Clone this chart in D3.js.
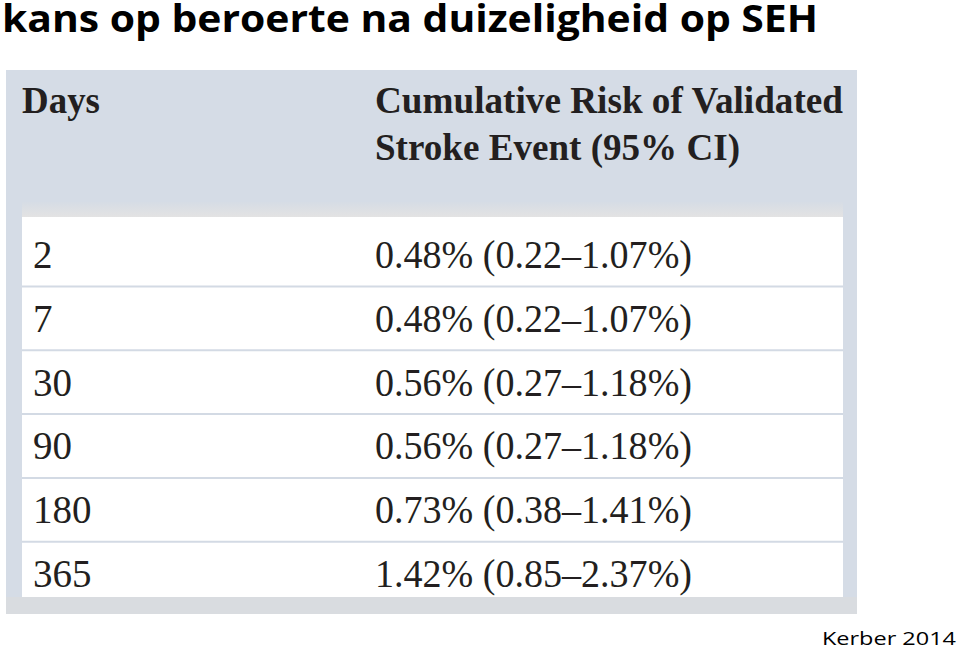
<!DOCTYPE html>
<html>
<head>
<meta charset="utf-8">
<script src="https://cdn.jsdelivr.net/npm/d3@7"></script>
<style>
  html, body { margin: 0; padding: 0; background: #fff; }
  svg { display: block; }
</style>
</head>
<body>
<div id="slide"></div>
<script>
// dados da tabela (Kerber 2014)
const dias = [2, 7, 30, 90, 180, 365];
const risco = [0.48, 0.48, 0.56, 0.56, 0.73, 1.42];
const ciBaixo = [0.22, 0.22, 0.27, 0.27, 0.38, 0.85];
const ciAlto = [1.07, 1.07, 1.18, 1.18, 1.41, 2.37];
const cabecalho = ['Days', 'Cumulative Risk of Validated', 'Stroke Event (95% CI)'];
const titulo = 'kans op beroerte na duizeligheid op SEH';
const fonte = 'Kerber 2014';

const W = 960, H = 648;
const svg = d3.select('#slide').append('svg')
  .attr('width', W).attr('height', H);

const serif = "'Liberation Serif', 'DejaVu Serif', serif";
const sans = "'Open Sans', 'Noto Sans', sans-serif";
const tinta = '#231f20';

// titulo do slide
svg.append('text')
  .attr('x', 2).attr('y', 32)
  .attr('font-family', sans).attr('font-weight', 700)
  .attr('font-size', 38)
  .attr('textLength', 816).attr('lengthAdjust', 'spacingAndGlyphs')
  .attr('fill', '#000')
  .text(titulo);

// painel de fundo
const defs = svg.append('defs');
const grad = defs.append('linearGradient').attr('id', 'faixa')
  .attr('x1', 0).attr('y1', 0).attr('x2', 0).attr('y2', 1);
grad.append('stop').attr('offset', '0%').attr('stop-color', '#d6dce5');
grad.append('stop').attr('offset', '100%').attr('stop-color', '#e3e3e3');

svg.append('rect') // fundo azul acinzentado
  .attr('x', 6).attr('y', 70).attr('width', 851).attr('height', 544)
  .attr('fill', '#d5dce6');
svg.append('rect') // faixa inferior
  .attr('x', 6).attr('y', 597).attr('width', 851).attr('height', 17)
  .attr('fill', '#d9dce0');
svg.append('rect') // faixa cinza sob o cabecalho
  .attr('x', 22).attr('y', 202).attr('width', 821).attr('height', 15)
  .attr('fill', 'url(#faixa)');
svg.append('rect') // area branca das linhas
  .attr('x', 22).attr('y', 217).attr('width', 821).attr('height', 380)
  .attr('fill', '#fff');

// escalas
const y = d3.scaleLinear().domain([0, dias.length - 1]).range([268, 587]);
const colX = [33, 375];

// cabecalho
svg.append('text')
  .attr('x', 22).attr('y', 113)
  .attr('font-family', serif).attr('font-weight', 700).attr('font-size', 38)
  .attr('textLength', 78).attr('lengthAdjust', 'spacingAndGlyphs')
  .attr('fill', tinta).text(cabecalho[0]);
svg.append('text')
  .attr('x', colX[1]).attr('y', 113)
  .attr('font-family', serif).attr('font-weight', 700).attr('font-size', 38)
  .attr('textLength', 468).attr('lengthAdjust', 'spacingAndGlyphs')
  .attr('fill', tinta).text(cabecalho[1]);
svg.append('text')
  .attr('x', colX[1]).attr('y', 160)
  .attr('font-family', serif).attr('font-weight', 700).attr('font-size', 38)
  .attr('textLength', 365).attr('lengthAdjust', 'spacingAndGlyphs')
  .attr('fill', tinta).text(cabecalho[2]);

// separadores entre linhas
svg.selectAll('line.sep')
  .data(dias.slice(0, -1))
  .join('line').attr('class', 'sep')
  .attr('x1', 22).attr('x2', 843)
  .attr('y1', (d, i) => y(i) + 18.5).attr('y2', (d, i) => y(i) + 18.5)
  .attr('stroke', '#d3dae4').attr('stroke-width', 2);

const fmt = d3.format('.2f');
const linhas = svg.selectAll('g.linha')
  .data(dias.map((d, i) => ({dia: d, r: risco[i], lo: ciBaixo[i], hi: ciAlto[i]})))
  .join('g').attr('class', 'linha')
  .attr('transform', (d, i) => `translate(0,${y(i)})`);

linhas.append('text')
  .attr('x', colX[0]).attr('y', 0)
  .attr('font-family', serif).attr('font-size', 39)
  .attr('fill', tinta)
  .text(d => d.dia);

linhas.append('text')
  .attr('x', colX[1]).attr('y', 0)
  .attr('font-family', serif).attr('font-size', 39)
  .attr('textLength', 317).attr('lengthAdjust', 'spacingAndGlyphs')
  .attr('fill', tinta)
  .text(d => `${fmt(d.r)}% (${fmt(d.lo)}–${fmt(d.hi)}%)`);

// referencia
svg.append('text')
  .attr('x', 822).attr('y', 645)
  .attr('font-family', sans).attr('font-size', 19)
  .attr('textLength', 134).attr('lengthAdjust', 'spacingAndGlyphs')
  .attr('fill', '#000')
  .text(fonte);
</script>
</body>
</html>
